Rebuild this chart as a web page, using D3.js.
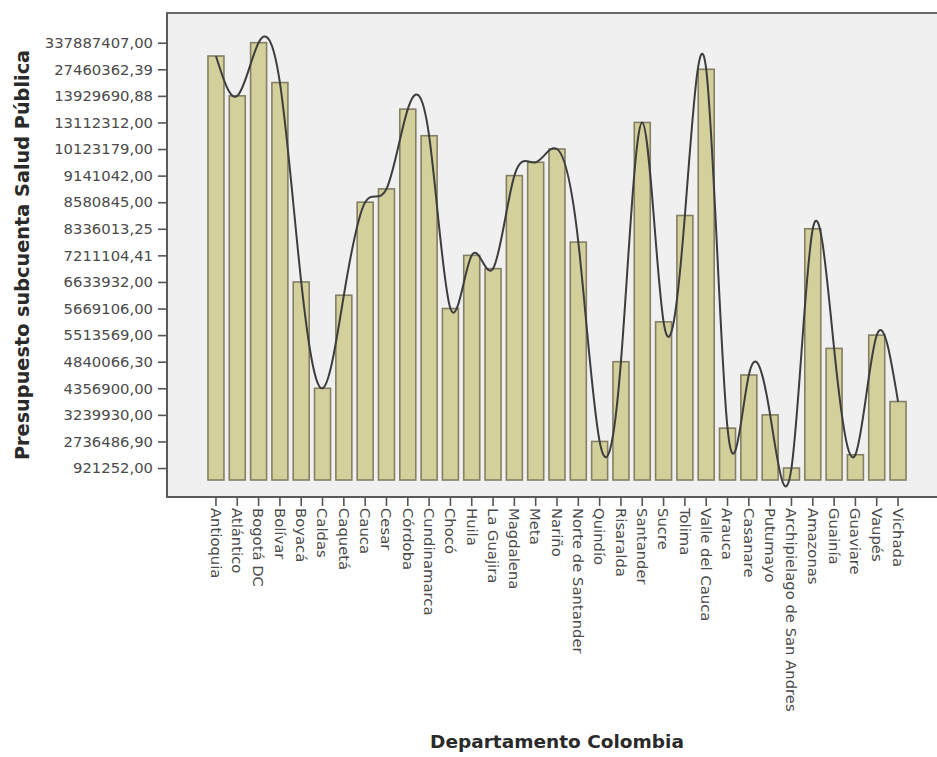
<!DOCTYPE html>
<html>
<head>
<meta charset="utf-8">
<script src="https://cdn.jsdelivr.net/npm/d3@7/dist/d3.min.js"></script>
<style>
  html, body { margin: 0; padding: 0; background: #ffffff; }
  svg { display: block; }
</style>
</head>
<body>
<svg id="chart" width="937" height="757"></svg>
<script>
// Departments (x categories)
const departments = [
  "Antioquia", "Atlántico", "Bogotá DC", "Bolívar", "Boyacá", "Caldas", "Caquetá",
  "Cauca", "Cesar", "Córdoba", "Cundinamarca", "Chocó", "Huila", "La Guajira",
  "Magdalena", "Meta", "Nariño", "Norte de Santander", "Quindío", "Risaralda",
  "Santander", "Sucre", "Tolima", "Valle del Cauca", "Arauca", "Casanare",
  "Putumayo", "Archipielago de San Andres", "Amazonas", "Guainía", "Guaviare",
  "Vaupés", "Vichada"
];

// Position of each department's budget on the ordinal value axis (0 = lowest category)
const budgetRank = [
  31, 28, 32, 29, 14, 6, 13,
  20, 21, 27, 25, 12, 16, 15,
  22, 23, 24, 17, 2, 8,
  26, 11, 19, 30, 3, 7,
  4, 0, 18, 9, 1,
  10, 5
];

// Labelled categories of the value axis (every other category), from lowest to highest
const yTickRanks = [0, 2, 4, 6, 8, 10, 12, 14, 16, 18, 20, 22, 24, 26, 28, 30, 32];
const yTickLabels = [
  "921252,00", "2736486,90", "3239930,00", "4356900,00", "4840066,30",
  "5513569,00", "5669106,00", "6633932,00", "7211104,41", "8336013,25",
  "8580845,00", "9141042,00", "10123179,00", "13112312,00", "13929690,88",
  "27460362,39", "337887407,00"
];

const yTitle = "Presupuesto subcuenta Salud Pública";
const xTitle = "Departamento Colombia";

const svg = d3.select("#chart");

const frame = { left: 167, top: 13, right: 960, bottom: 497 };

const x = d3.scaleBand()
  .domain(departments)
  .range([205.3, 908.7])
  .paddingInner(0.25)
  .paddingOuter(0.125);

const y = d3.scaleLinear()
  .domain([-0.9, 32])
  .range([480, 42.7]);

const data = departments.map((d, i) => ({ name: d, rank: budgetRank[i] }));

// plot background
svg.append("rect")
  .attr("x", frame.left)
  .attr("y", frame.top)
  .attr("width", frame.right - frame.left)
  .attr("height", frame.bottom - frame.top)
  .attr("fill", "#f0f0f0")
  .attr("stroke", "#6a6a6a")
  .attr("stroke-width", 2);

// bars
svg.append("g")
  .selectAll("rect")
  .data(data)
  .join("rect")
  .attr("x", d => x(d.name))
  .attr("y", d => y(d.rank))
  .attr("width", x.bandwidth())
  .attr("height", d => y(-0.9) - y(d.rank))
  .attr("fill", "#d4d09c")
  .attr("stroke", "#857f63")
  .attr("stroke-width", 1.6);

// spline interpolation line
const line = d3.line()
  .x(d => x(d.name) + x.bandwidth() / 2)
  .y(d => y(d.rank))
  .curve(d3.curveNatural);

svg.append("path")
  .datum(data)
  .attr("d", line)
  .attr("fill", "none")
  .attr("stroke", "#3d3d3d")
  .attr("stroke-width", 2);

// y axis
const yAxis = d3.axisLeft(y)
  .tickValues(yTickRanks)
  .tickFormat((d, i) => yTickLabels[i])
  .tickSize(9)
  .tickPadding(5);

const gy = svg.append("g")
  .attr("transform", `translate(${frame.left},0)`)
  .call(yAxis);
gy.select(".domain").remove();
gy.selectAll(".tick line").attr("stroke", "#555").attr("stroke-width", 1.6);
gy.selectAll(".tick text")
  .attr("fill", "#4a4a4a")
  .style("font-family", "'DejaVu Sans', sans-serif")
  .style("font-size", "14.8px");

// x axis
const xAxis = d3.axisBottom(x).tickSize(9).tickPadding(3);
const gx = svg.append("g")
  .attr("transform", `translate(0,${frame.bottom})`)
  .call(xAxis);
gx.select(".domain").remove();
gx.selectAll(".tick line").attr("stroke", "#555").attr("stroke-width", 1.6);
gx.selectAll(".tick text")
  .attr("fill", "#4a4a4a")
  .style("font-family", "'DejaVu Sans', sans-serif")
  .style("font-size", "14.8px")
  .attr("text-anchor", "start")
  .attr("transform", "rotate(90)")
  .attr("x", 11)
  .attr("y", 0)
  .attr("dy", "0.35em");

// re-draw frame edges on top
svg.append("line")
  .attr("x1", frame.left).attr("x2", frame.left)
  .attr("y1", frame.top).attr("y2", frame.bottom)
  .attr("stroke", "#5a5a5a").attr("stroke-width", 2);
svg.append("line")
  .attr("x1", frame.left).attr("x2", frame.right)
  .attr("y1", frame.bottom).attr("y2", frame.bottom)
  .attr("stroke", "#5a5a5a").attr("stroke-width", 2);

// titles
svg.append("text")
  .attr("transform", `translate(29,255) rotate(-90)`)
  .attr("text-anchor", "middle")
  .style("font-family", "'DejaVu Sans', sans-serif")
  .style("font-weight", "bold")
  .style("font-size", "19.3px")
  .attr("fill", "#2a2a2a")
  .text(yTitle);

svg.append("text")
  .attr("x", 557)
  .attr("y", 748)
  .attr("text-anchor", "middle")
  .style("font-family", "'DejaVu Sans', sans-serif")
  .style("font-weight", "bold")
  .style("font-size", "18.5px")
  .attr("fill", "#2a2a2a")
  .text(xTitle);
</script>
</body>
</html>
